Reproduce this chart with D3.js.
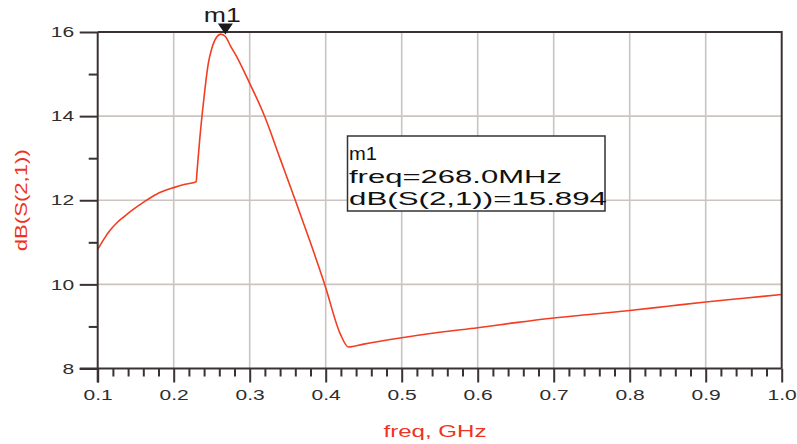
<!DOCTYPE html>
<html>
<head>
<meta charset="utf-8">
<script src="https://cdn.jsdelivr.net/npm/d3@7"></script>
<style>
  html, body { margin: 0; padding: 0; background: #fff; }
  svg { display: block; font-family: "Liberation Sans", Arial, sans-serif; }
</style>
</head>
<body>
<svg id="chart" width="797" height="444"></svg>
<script>
// S21 gain sweep (GHz, dB)
const freqGHz = [0.100, 0.108, 0.116, 0.125, 0.134, 0.145, 0.160, 0.178, 0.200, 0.215,
                 0.2296, 0.2305, 0.2345, 0.239, 0.2455, 0.250, 0.2566, 0.262, 0.268,
                 0.275, 0.283, 0.300, 0.320, 0.340, 0.360, 0.380, 0.399, 0.419, 0.430,
                 0.450, 0.500, 0.550, 0.600, 0.650, 0.700, 0.750, 0.800, 0.850, 0.900,
                 0.950, 1.000];
const dBS21   = [10.83, 11.07, 11.28, 11.46, 11.60, 11.76, 11.95, 12.15, 12.30, 12.38,
                 12.44, 12.64, 13.50, 14.30, 15.25, 15.60, 15.88, 15.95, 15.894,
                 15.66, 15.41, 14.78, 13.98, 12.99, 12.00, 10.99, 9.98, 8.83, 8.51,
                 8.58, 8.73, 8.86, 8.97, 9.09, 9.20, 9.29, 9.38, 9.48, 9.58,
                 9.67, 9.76];

const xMajor = [0.1, 0.2, 0.3, 0.4, 0.5, 0.6, 0.7, 0.8, 0.9, 1.0];
const xTickLabels = ["0.1", "0.2", "0.3", "0.4", "0.5", "0.6", "0.7", "0.8", "0.9", "1.0"];
const yMajor = [8, 10, 12, 14, 16];
const yTickLabels = ["8", "10", "12", "14", "16"];

const markerName = "m1";
const markerFreqMHz = 268.0;
const markerDb = 15.894;

const svg = d3.select("#chart");
const plotLeft = 97.7, plotRight = 781.7, plotTop = 32, plotBottom = 368.5;

const x = d3.scaleLinear().domain([0.1, 1.0]).range([plotLeft, plotRight]);
const y = d3.scaleLinear().domain([8, 16]).range([plotBottom, plotTop]);

const axisColor = "#3a3232";
const gridColor = "#ccc4c1";
const traceColor = "#f33d21";
const textStretch = 1.45;

// minor tick positions every 0.02 GHz / 1 dB, skipping the majors
const xMinor = d3.range(0, 46).map(i => +(0.1 + i * 0.02).toFixed(3))
  .filter(v => v <= 1.0 && !xMajor.some(m => Math.abs(m - v) < 1e-9));
const yMinor = [9, 11, 13, 15];

// grid
svg.append("g").selectAll("line").data(xMajor.slice(1, -1)).join("line")
  .attr("x1", d => x(d)).attr("x2", d => x(d)).attr("y1", plotTop).attr("y2", plotBottom)
  .attr("stroke", gridColor).attr("stroke-width", 1.6);
svg.append("g").selectAll("line").data(yMajor.slice(1, -1)).join("line")
  .attr("x1", plotLeft).attr("x2", plotRight).attr("y1", d => y(d)).attr("y2", d => y(d))
  .attr("stroke", gridColor).attr("stroke-width", 1.6);

// trace
svg.append("path")
  .datum(freqGHz.map((f, i) => [f, dBS21[i]]))
  .attr("fill", "none")
  .attr("stroke", traceColor)
  .attr("stroke-width", 1.6)
  .attr("stroke-linejoin", "round")
  .attr("d", d3.line().x(d => x(d[0])).y(d => y(d[1])).curve(d3.curveMonotoneX));

// frame (top and right)
svg.append("path")
  .attr("d", `M${plotLeft},${plotTop}H${plotRight}V${plotBottom}`)
  .attr("fill", "none").attr("stroke", axisColor).attr("stroke-width", 2);

// bottom axis: major + minor
const xAxis = svg.append("g").attr("transform", `translate(0,${plotBottom})`)
  .call(d3.axisBottom(x).tickValues(xMajor).tickFormat((d, i) => xTickLabels[i]).tickSize(14).tickPadding(7.5));
svg.append("g").attr("transform", `translate(0,${plotBottom})`)
  .call(d3.axisBottom(x).tickValues(xMinor).tickFormat("").tickSize(8))
  .call(g => g.select(".domain").remove());

// left axis: major + minor
const yAxis = svg.append("g").attr("transform", `translate(${plotLeft},0)`)
  .call(d3.axisLeft(y).tickValues(yMajor).tickFormat((d, i) => yTickLabels[i]).tickSize(18));
svg.append("g").attr("transform", `translate(${plotLeft},0)`)
  .call(d3.axisLeft(y).tickValues(yMinor).tickFormat("").tickSize(9))
  .call(g => g.select(".domain").remove());

svg.selectAll(".domain").attr("stroke", axisColor).attr("stroke-width", 2);
svg.selectAll(".tick line").attr("stroke", axisColor).attr("stroke-width", 2);

xAxis.select(".domain").attr("d", `M${plotLeft - 18},0H${plotRight}`);
yAxis.select(".domain").attr("d", `M0,${plotTop}V${plotBottom + 14}`);

xAxis.selectAll(".tick text")
  .attr("font-size", 14.5).attr("fill", "#2e2e2e")
  .attr("font-family", "'Liberation Sans', Arial, sans-serif")
  .attr("transform", `scale(${textStretch},1)`);
yAxis.selectAll(".tick text")
  .attr("font-size", 14.5).attr("fill", "#2e2e2e")
  .attr("font-family", "'Liberation Sans', Arial, sans-serif")
  .attr("x", -23.5 / textStretch)
  .attr("transform", `scale(${textStretch},1)`);

// axis titles
svg.append("text")
  .attr("transform", `translate(27,${(plotTop + plotBottom) / 2}) rotate(-90)`)
  .attr("text-anchor", "middle")
  .attr("font-size", 16).attr("fill", "#ee3322")
  .attr("textLength", 102).attr("lengthAdjust", "spacingAndGlyphs")
  .text("dB(S(2,1))");
svg.append("text")
  .attr("x", 435).attr("y", 437)
  .attr("text-anchor", "middle")
  .attr("font-size", 16).attr("fill", "#ee3322")
  .attr("textLength", 103).attr("lengthAdjust", "spacingAndGlyphs")
  .text("freq, GHz");

// marker triangle and name
const mx = x(markerFreqMHz / 1000), my = y(markerDb);
svg.append("path")
  .attr("d", `M${mx - 7.5},${my - 13}L${mx + 7.5},${my - 13}L${mx},${my - 2}Z`)
  .attr("fill", "#1a1a1a");
svg.append("text")
  .attr("x", mx - 3).attr("y", my - 14)
  .attr("text-anchor", "middle")
  .attr("font-size", 20).attr("fill", "#1a1a1a")
  .attr("textLength", 37).attr("lengthAdjust", "spacingAndGlyphs")
  .text(markerName);

// marker readout box
const box = svg.append("g");
box.append("rect")
  .attr("x", 347.5).attr("y", 136).attr("width", 257.5).attr("height", 75)
  .attr("fill", "#fff").attr("stroke", "#333").attr("stroke-width", 1.5);
const readout = [
  { t: markerName, w: 28 },
  { t: `freq=${markerFreqMHz.toFixed(1)}MHz`, w: 213 },
  { t: `dB(S(2,1))=${markerDb.toFixed(3)}`, w: 258 }
];
box.selectAll("text").data(readout).join("text")
  .attr("x", 349).attr("y", (d, i) => 160 + i * 22.5)
  .attr("font-size", 19).attr("fill", "#111")
  .attr("textLength", d => d.w).attr("lengthAdjust", "spacingAndGlyphs")
  .text(d => d.t);
</script>
</body>
</html>
